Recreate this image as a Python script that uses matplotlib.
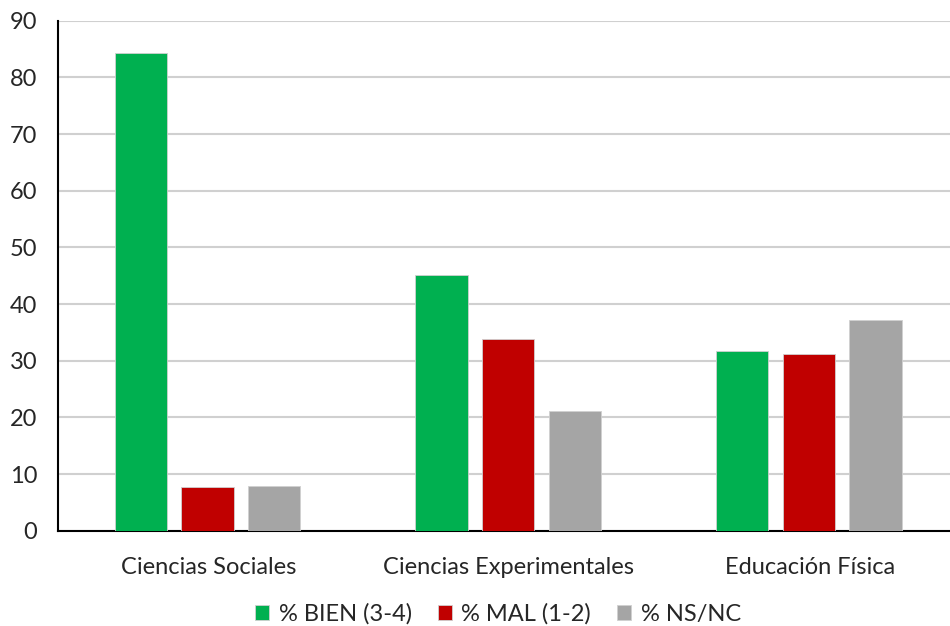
import matplotlib.pyplot as plt
import numpy as np

plt.rcParams['font.family'] = ['Lato', 'DejaVu Sans']

categories = ["Ciencias Sociales", "Ciencias Experimentales", "Educación Física"]
bien = [84.3, 45.1, 31.7]
mal = [7.8, 33.8, 31.1]
nsnc = [7.9, 21.1, 37.2]
series = ["% BIEN (3-4)", "% MAL (1-2)", "% NS/NC"]
colors = ["#00B050", "#C00000", "#A5A5A5"]

fig = plt.figure(figsize=(9.5, 6.26), dpi=100)
ax = fig.add_axes([58/950, 95.3/626, 902/950, 510/626])

x = np.arange(len(categories))
w = 0.174
step = 0.222
for i, (vals, lab, c) in enumerate(zip([bien, mal, nsnc], series, colors)):
    ax.bar(x + (i - 1)*step - 0.003, vals, width=w, color=c, label=lab,
           edgecolor="#D0D0D0", linewidth=0.6, zorder=3)

ax.set_xlim(-0.5, 2.5)
ax.set_ylim(0, 90)
ax.set_yticks(range(0, 91, 10))
ax.set_xticks(x)
ax.set_xticklabels(categories)
ax.tick_params(axis="both", length=0, labelsize=17, colors="#262626")
ax.tick_params(axis="y", pad=15)
ax.tick_params(axis="x", pad=19)
ax.grid(True, axis="y", color="#D0D0D0", linewidth=1.5, zorder=0)
for s in ["top", "right"]:
    ax.spines[s].set_visible(False)
ax.spines["left"].set_linewidth(1.5)
ax.spines["bottom"].set_linewidth(1.5)

ax.legend(loc="lower center", bbox_to_anchor=(440/902, -0.226), ncol=3,
          frameon=False, fontsize=17, handlelength=0.6, handleheight=0.6,
          handletextpad=0.4, columnspacing=1.1, labelcolor="#262626")

fig.savefig("out.png", dpi=100)
